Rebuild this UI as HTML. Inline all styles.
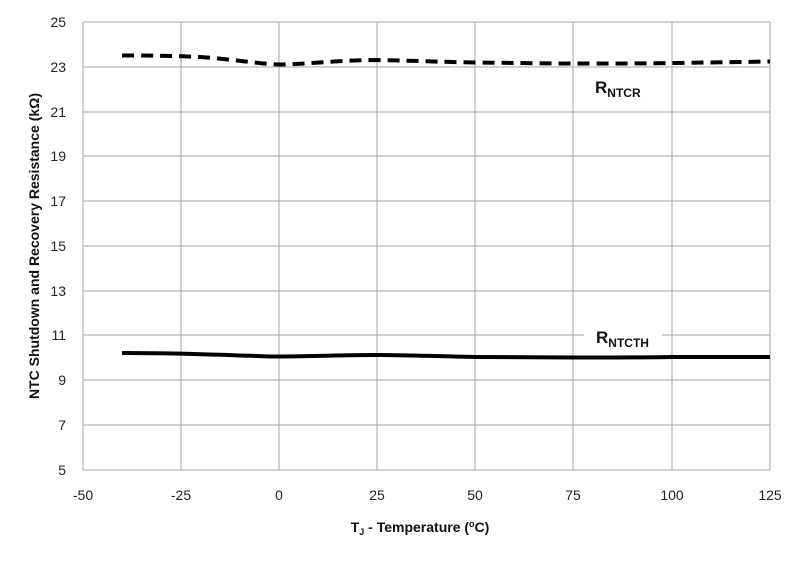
<!DOCTYPE html>
<html><head><style>
body{margin:0;background:#fff;}
svg text{font-family:"Liberation Sans",sans-serif;}
</style></head><body>
<svg width="803" height="560" xmlns="http://www.w3.org/2000/svg">
<rect width="803" height="560" fill="#fff"/>
<g stroke="#a6a6a6" stroke-width="1">
<line x1="83" y1="22" x2="770" y2="22"/><line x1="83" y1="67" x2="770" y2="67"/><line x1="83" y1="112" x2="770" y2="112"/><line x1="83" y1="156" x2="770" y2="156"/><line x1="83" y1="201" x2="770" y2="201"/><line x1="83" y1="246" x2="770" y2="246"/><line x1="83" y1="291" x2="770" y2="291"/><line x1="83" y1="335" x2="770" y2="335"/><line x1="83" y1="380" x2="770" y2="380"/><line x1="83" y1="425" x2="770" y2="425"/><line x1="83" y1="470" x2="770" y2="470"/>
<line x1="83" y1="22" x2="83" y2="470"/><line x1="181" y1="22" x2="181" y2="470"/><line x1="279" y1="22" x2="279" y2="470"/><line x1="377" y1="22" x2="377" y2="470"/><line x1="475" y1="22" x2="475" y2="470"/><line x1="573" y1="22" x2="573" y2="470"/><line x1="672" y1="22" x2="672" y2="470"/><line x1="770" y1="22" x2="770" y2="470"/>
</g>
<g font-size="14" fill="#222" text-anchor="end">
<text x="66" y="27">25</text><text x="66" y="72">23</text><text x="66" y="117">21</text><text x="66" y="161">19</text><text x="66" y="206">17</text><text x="66" y="251">15</text><text x="66" y="296">13</text><text x="66" y="340">11</text><text x="66" y="385">9</text><text x="66" y="430">7</text><text x="66" y="475">5</text>
</g>
<g font-size="14" fill="#222" text-anchor="middle">
<text x="83" y="500">-50</text><text x="181" y="500">-25</text><text x="279" y="500">0</text><text x="377" y="500">25</text><text x="475" y="500">50</text><text x="573" y="500">75</text><text x="672" y="500">100</text><text x="770" y="500">125</text>
</g>
<text x="420" y="532" font-size="14" font-weight="bold" text-anchor="middle" fill="#111">T<tspan font-size="9" dy="3">J</tspan><tspan dy="-3"> - Temperature (</tspan><tspan font-size="9" dy="-5">o</tspan><tspan dy="5">C)</tspan></text>
<text transform="translate(39,246) rotate(-90)" font-size="14" font-weight="bold" text-anchor="middle" fill="#111">NTC Shutdown and Recovery Resistance (kΩ)</text>
<path d="M122,55.5 C160,55.5 180,56 200,57 C240,60 260,64 279,64.5 C310,64 340,60 377,60 C420,61 450,62 475,62.5 C520,63 550,63.5 573,63.5 C620,63.5 650,63.5 672,63 C710,62.5 740,62 770,61.5" fill="none" stroke="#000" stroke-width="4" stroke-dasharray="12,7"/>
<path d="M122,353 C160,353 200,354 240,355.5 C260,356 270,356.5 279,356.5 C320,356 350,355 377,355 C420,355.5 450,356.5 475,357 C520,357.5 550,357.5 573,357.5 C620,357.5 650,357.5 672,357 C710,357 740,357 770,357" fill="none" stroke="#000" stroke-width="4"/>
<text x="595" y="93" font-size="17" font-weight="bold" fill="#111">R<tspan font-size="12" dy="4">NTCR</tspan></text>
<rect x="584" y="326" width="78" height="20" fill="#fff"/>
<text x="596" y="343" font-size="17" font-weight="bold" fill="#111">R<tspan font-size="12" dy="4">NTCTH</tspan></text>
</svg>
</body></html>
